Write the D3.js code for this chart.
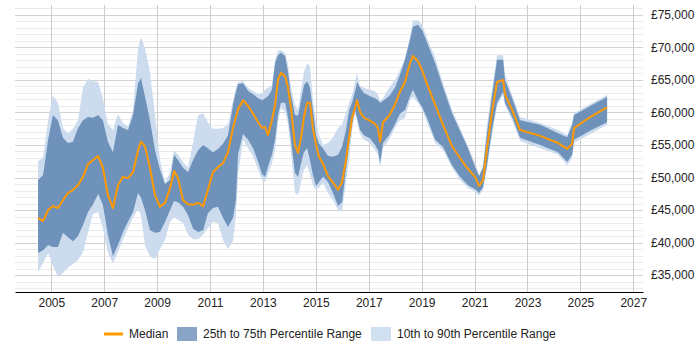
<!DOCTYPE html>
<html>
<head>
<meta charset="utf-8">
<script src="https://cdn.jsdelivr.net/npm/d3@7"></script>
<style>
  body { margin: 0; background: #fff; }
  svg { display: block; font-family: "Liberation Sans", Arial, sans-serif; }
</style>
</head>
<body>
<svg id="chart" width="700" height="350"></svg>
<script>
// decimal years of each sample
const years = [
  2004.50, 2004.69, 2004.88, 2005.06, 2005.25, 2005.44, 2005.63, 2005.82, 2006.01, 2006.20,
  2006.39, 2006.58, 2006.77, 2006.95, 2007.14, 2007.33, 2007.52, 2007.71, 2007.90, 2008.09,
  2008.28, 2008.39, 2008.54, 2008.73, 2008.92, 2009.11, 2009.30, 2009.49, 2009.64, 2009.79,
  2009.98, 2010.17, 2010.36, 2010.55, 2010.74, 2010.92, 2011.11, 2011.30, 2011.49, 2011.68,
  2011.87, 2011.98, 2012.06, 2012.25, 2012.44, 2012.63, 2012.82, 2012.97, 2013.08, 2013.19,
  2013.34, 2013.46, 2013.57, 2013.68, 2013.84, 2013.95, 2014.06, 2014.21, 2014.33, 2014.44,
  2014.55, 2014.67, 2014.78, 2014.89, 2015.01, 2015.12, 2015.27, 2015.46, 2015.65, 2015.84,
  2015.99, 2016.14, 2016.26, 2016.37, 2016.48, 2016.56, 2016.67, 2016.82, 2017.05, 2017.24,
  2017.35, 2017.43, 2017.54, 2017.77, 2017.99, 2018.18, 2018.37, 2018.56, 2018.67, 2018.86,
  2019.02, 2019.20, 2019.51, 2019.81, 2020.15, 2020.45, 2020.75, 2021.02, 2021.17, 2021.32,
  2021.47, 2021.66, 2021.85, 2022.08, 2022.15, 2022.42, 2022.72, 2023.48, 2024.16, 2024.50,
  2024.69, 2024.76, 2025.37, 2026.01
];

const median = [
  43800, 43300, 45000, 45600, 45300, 46500, 47600, 48100, 48800, 50100,
  52100, 52700, 53300, 51500, 47300, 45300, 48800, 50100, 49900, 50800,
  54200, 55500, 54800, 51500, 47300, 45500, 46100, 48400, 51000, 49900,
  46500, 45900, 45800, 46100, 45600, 48100, 50800, 51600, 52200, 53900,
  57600, 59300, 60500, 61900, 61000, 59800, 58500, 57600, 57800, 56500,
  58800, 61200, 65000, 66100, 65600, 63800, 60700, 55000, 53800, 56100,
  59300, 61500, 61500, 57600, 55000, 53200, 52100, 50200, 49200, 48100,
  49300, 52700, 56200, 59200, 60700, 61900, 60100, 59200, 58700, 58200,
  57600, 55500, 58500, 59500, 61200, 63200, 64700, 67600, 68700, 67900,
  66500, 64400, 61200, 58100, 54800, 53000, 51300, 50100, 48700, 49600,
  54500, 60100, 64700, 65000, 62800, 60400, 57300, 56400, 55300, 54400,
  55200, 57600, 59300, 60800
];

const p25 = [
  38400, 38800, 39600, 39300, 39300, 41500, 40800, 40200, 41000, 42700,
  44700, 45900, 47500, 45800, 41200, 37900, 39600, 41600, 43200, 44700,
  47600, 46900, 45000, 41900, 41500, 41600, 43200, 45000, 46400, 46200,
  45500, 44200, 42100, 41600, 41900, 44500, 45300, 45500, 43800, 42400,
  43800, 46500, 53600, 56700, 55800, 54500, 52400, 50500, 50100, 51700,
  53500, 55800, 59600, 61500, 61500, 59200, 55800, 50700, 50100, 52200,
  53900, 54500, 52700, 50400, 48700, 49300, 50100, 49300, 47600, 45600,
  46200, 51200, 55000, 58100, 60400, 59200, 57300, 56500, 56000, 55000,
  54200, 52200, 55300, 56500, 58200, 59800, 60400, 62500, 63500, 61900,
  60800, 59200, 55800, 54700, 51900, 50100, 48800, 48200, 47600, 48500,
  51900, 57300, 61500, 63200, 61500, 59300, 56100, 55000, 53900, 52400,
  53500, 55800, 57200, 58500
];

const p75 = [
  49600, 50400, 55800, 59600, 58800, 56100, 55300, 55500, 57600, 58800,
  59300, 59200, 59600, 58800, 55500, 53900, 58100, 57600, 57300, 59600,
  64500, 65300, 62500, 58800, 54200, 51200, 49000, 49600, 53500, 52700,
  51500, 50800, 52700, 54200, 55000, 54500, 53900, 54400, 55200, 56500,
  61200, 63200, 64400, 64500, 63300, 62800, 62200, 61900, 62200, 62500,
  63500, 67600, 68800, 69200, 68700, 66200, 62700, 59600, 59500, 61900,
  64200, 64800, 63800, 60400, 56500, 55200, 54500, 53300, 53200, 53500,
  54700, 57300, 60400, 61500, 63200, 64700, 63800, 63000, 62500, 62200,
  61900, 61500, 61800, 62500, 63800, 65800, 68100, 71200, 73200, 73500,
  72700, 70800, 67600, 63900, 59900, 57200, 54500, 51700, 50200, 51500,
  56800, 62700, 68100, 68100, 65000, 62200, 58800, 58100, 56800, 56200,
  58100, 59600, 61000, 62400
];

const p10 = [
  35500, 36800, 38400, 36500, 34700, 35300, 36100, 36700, 37300, 38500,
  41600, 44400, 44700, 42200, 38500, 36800, 38500, 40500, 42100, 43800,
  45200, 44200, 39600, 37800, 37500, 39000, 40400, 43200, 43900, 43500,
  43000, 41200, 40500, 40500, 41200, 42200, 43200, 43000, 40400, 39000,
  40200, 44200, 50400, 55800, 54500, 53200, 51200, 49600, 49300, 50500,
  52200, 54200, 58500, 60700, 60100, 58100, 53900, 47600, 47300, 49200,
  51200, 51900, 50400, 48800, 48100, 48500, 49200, 47600, 46500, 45000,
  44700, 49300, 52700, 57300, 59800, 58500, 56700, 55800, 55300, 54200,
  53500, 51600, 54500, 55800, 57600, 58800, 59200, 61900, 62400, 61500,
  60400, 58500, 55300, 54200, 51500, 49600, 48400, 47800, 47200, 48100,
  51500, 56500, 61000, 62700, 61000, 58800, 55600, 54500, 53500, 51900,
  53000, 55300, 56700, 58100
];

const p90 = [
  52500, 53000, 58800, 62700, 61500, 57600, 56800, 57500, 58800, 63900,
  65200, 64800, 64700, 62200, 58200, 57300, 59800, 58400, 57800, 60400,
  69900, 71600, 69900, 66200, 59600, 52700, 49200, 50800, 54200, 53500,
  52400, 51500, 55500, 59600, 59900, 58500, 57500, 57500, 57600, 58200,
  61900, 63800, 64700, 64800, 63800, 63300, 62800, 63000, 63500, 63800,
  64200, 68100, 69500, 69600, 69200, 67300, 63800, 61200, 60400, 63500,
  66200, 67600, 67100, 61900, 58500, 56500, 55000, 55300, 56200, 57600,
  58200, 59900, 61500, 62700, 64700, 66100, 64100, 63800, 63500, 63300,
  62700, 61700, 62200, 63800, 65000, 66500, 68400, 71800, 74200, 74200,
  73500, 71500, 68500, 64500, 60400, 57600, 54800, 52200, 50400, 51900,
  58100, 63500, 68800, 68800, 65900, 62700, 59300, 58400, 57300, 56500,
  58500, 59900, 61300, 62700
];

const xTicks = [2005, 2007, 2009, 2011, 2013, 2015, 2017, 2019, 2021, 2023, 2025, 2027];
const yTicks = [35000, 40000, 45000, 50000, 55000, 60000, 65000, 70000, 75000];
const legendItems = ["Median", "25th to 75th Percentile Range", "10th to 90th Percentile Range"];

const rows = years.map((yr, i) => ({
  yr: yr, med: median[i], lo50: p25[i], hi50: p75[i], lo80: p10[i], hi80: p90[i]
}));

const svg = d3.select("#chart");
const plotLeft = 15, plotRight = 643, plotTop = 5, plotBottom = 292;

const x = d3.scaleLinear().domain([2003.628, 2027.367]).range([plotLeft, plotRight]);
const y = d3.scaleLinear().domain([32385, 76538]).range([plotBottom, plotTop]);

// horizontal grid, minor every 1000 and major every 5000
const gridVals = d3.range(33000, 76001, 1000);
svg.append("g")
  .selectAll("line")
  .data(gridVals)
  .join("line")
  .attr("x1", plotLeft).attr("x2", plotRight)
  .attr("y1", d => Math.round(y(d)) + 0.5)
  .attr("y2", d => Math.round(y(d)) + 0.5)
  .attr("stroke", d => d % 5000 === 0 ? "#d2d2d2" : "#ebebeb")
  .attr("stroke-width", 1);

// vertical grid
svg.append("g")
  .selectAll("line")
  .data(xTicks)
  .join("line")
  .attr("x1", d => Math.round(x(d)) + 0.5)
  .attr("x2", d => Math.round(x(d)) + 0.5)
  .attr("y1", plotTop).attr("y2", plotBottom)
  .attr("stroke", "#cccccc");

// bands
const area80 = d3.area().x(d => x(d.yr)).y0(d => y(d.lo80)).y1(d => y(d.hi80));
const area50 = d3.area().x(d => x(d.yr)).y0(d => y(d.lo50)).y1(d => y(d.hi50));

svg.append("path").datum(rows)
  .attr("fill", "#ccdcee")
  .attr("d", area80);

svg.append("path").datum(rows)
  .attr("fill", "#6f92bb")
  .attr("d", area50);

// median
const line = d3.line().x(d => x(d.yr)).y(d => y(d.med));
svg.append("path").datum(rows)
  .attr("fill", "none")
  .attr("stroke", "#ff9900")
  .attr("stroke-width", 2)
  .attr("stroke-linejoin", "round")
  .attr("d", line);

// x axis
const xAxis = svg.append("g")
  .attr("transform", `translate(0,${plotBottom})`)
  .call(d3.axisBottom(x).tickValues(xTicks).tickSize(0).tickSizeOuter(0).tickPadding(6).tickFormat(d3.format("d")));
xAxis.select(".domain").attr("stroke", "#000");
xAxis.selectAll("text").attr("font-size", 12).attr("fill", "#222");

// y axis on the right
const yAxis = svg.append("g")
  .attr("transform", `translate(${plotRight},0)`)
  .call(d3.axisRight(y).tickValues(yTicks).tickSize(0).tickPadding(8).tickFormat(d => "£" + d3.format(",")(d)));
yAxis.select(".domain").remove();
yAxis.selectAll("text").attr("font-size", 12).attr("fill", "#222");

// legend
const lg = svg.append("g").attr("font-size", 12).attr("fill", "#222");
const ly = 334;
lg.append("line")
  .attr("x1", 104).attr("x2", 123).attr("y1", ly).attr("y2", ly)
  .attr("stroke", "#ff9900").attr("stroke-width", 3);
lg.append("text").attr("x", 129).attr("y", ly + 4).text(legendItems[0]);
lg.append("rect").attr("x", 177).attr("y", ly - 7).attr("width", 20).attr("height", 14).attr("fill", "#88a5c6");
lg.append("text").attr("x", 203).attr("y", ly + 4).text(legendItems[1]);
lg.append("rect").attr("x", 371).attr("y", ly - 7).attr("width", 20).attr("height", 14).attr("fill", "#d0e0f0");
lg.append("text").attr("x", 397).attr("y", ly + 4).text(legendItems[2]);
</script>
</body>
</html>
